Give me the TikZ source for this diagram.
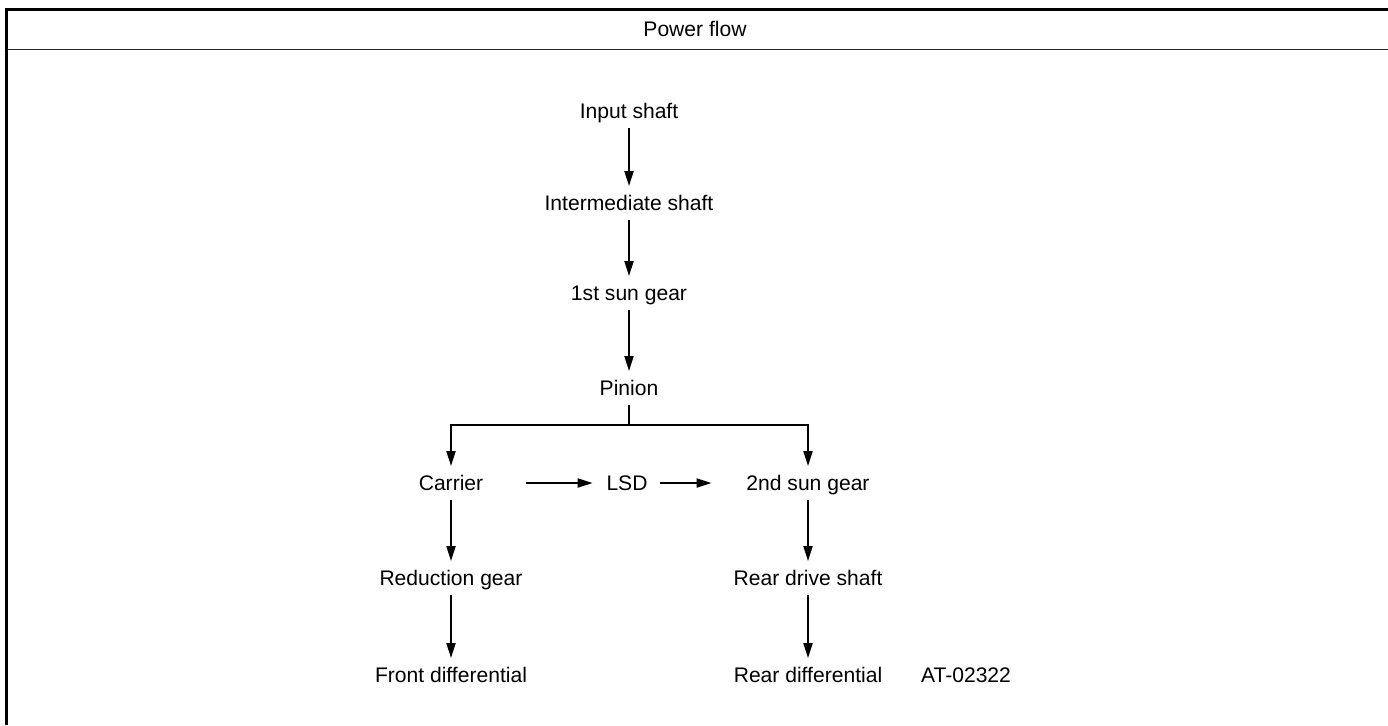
\documentclass[tikz,border=0pt]{standalone}
\usepackage{fontspec}
\setmainfont{Liberation Sans}
\usetikzlibrary{arrows.meta}

\begin{document}
\begin{tikzpicture}[x=0.02cm, y=-0.02cm,
    lbl/.style={font=\fontsize{12}{14}\selectfont, inner sep=0pt, text height=8.6pt, text depth=0pt, outer xsep=0pt, outer ysep=5.4pt},
    flow/.style={line width=0.9pt, -{Triangle[length=8.5pt,width=5.2pt]}}]
            % Frame
            \useasboundingbox (0,0) rectangle (1388,725);
            \draw[line width=1.7pt] (6.5,725) -- (6.5,9.5) -- (1388,9.5);
            \draw[line width=0.9pt, black!85] (6.5,49.5) -- (1388,49.5);
            \node[lbl] (Title) at (695,29) {Power flow};
            % Main column
            \node[lbl] (Input) at (629,111) {Input shaft};
            \node[lbl] (Inter) at (629,203) {Intermediate shaft};
            \node[lbl] (Sun1) at (629,293) {1st sun gear};
            \node[lbl] (Pinion) at (629,388) {Pinion};
            \coordinate (J) at (629,425);
            % Branches
            \node[lbl] (Carrier) at (451,483) {Carrier};
            \node[lbl] (LSD) at (627,483) {LSD};
            \node[lbl] (Sun2) at (808,483) {2nd sun gear};
            \node[lbl] (Red) at (451,578) {Reduction gear};
            \node[lbl] (Drive) at (808,578) {Rear drive shaft};
            \node[lbl] (FDiff) at (451,675) {Front differential};
            \node[lbl] (RDiff) at (808,675) {Rear differential};
            \node[lbl] (Code) at (966,675) {AT-02322};
            % Arrows
            \draw[flow] (Input) -- (Inter);
            \draw[flow] (Inter) -- (Sun1);
            \draw[flow] (Sun1) -- (Pinion);
            \draw[line width=0.9pt] (Pinion) -- (J);
            \draw[flow] (J) -| (Carrier);
            \draw[flow] (J) -| (Sun2);
            \draw[flow, shorten <=0.846cm, shorten >=0.28cm] (Carrier) -- (LSD);
            \draw[flow, shorten <=0.24cm, shorten >=0.7cm] (LSD) -- (Sun2);
            \draw[flow] (Carrier) -- (Red);
            \draw[flow] (Red) -- (FDiff);
            \draw[flow] (Sun2) -- (Drive);
            \draw[flow] (Drive) -- (RDiff);
        \end{tikzpicture}
\end{document}
